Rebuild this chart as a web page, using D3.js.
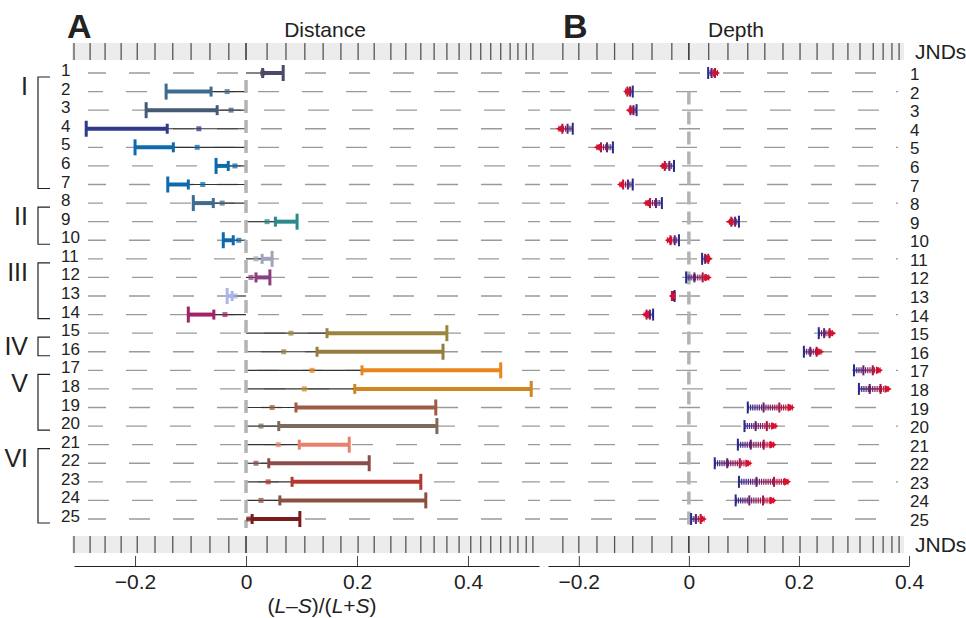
<!DOCTYPE html>
<html>
<head>
<meta charset="utf-8">
<script src="https://cdn.jsdelivr.net/npm/d3@7"></script>
<style>
  body { margin: 0; background: #fff; }
  svg { font-family: "Liberation Sans", Arial, sans-serif; }
</style>
</head>
<body>
<div id="chart"></div>
<script>
// Set up dimensions
const width = 966;
const height = 618;

// Rows (cone class index) and groups
const rows = d3.range(1, 26);
const groups = [
    { name: "I", from: 1, to: 7 },
    { name: "II", from: 8, to: 10 },
    { name: "III", from: 11, to: 14 },
    { name: "IV", from: 15, to: 16 },
    { name: "V", from: 17, to: 20 },
    { name: "VI", from: 21, to: 25 }
];

// Distance panel: small square, near cap, far cap (L-S)/(L+S)
const distMid = [0.030, -0.034, -0.027, -0.085, -0.088, -0.020, -0.078, -0.043, 0.038, -0.013,
    0.018, 0.009, -0.020, -0.038, 0.081, 0.068, 0.119, 0.105, 0.047, 0.027,
    0.058, 0.018, 0.040, 0.027, 0.005];
const distNear = [0.030, -0.063, -0.052, -0.142, -0.131, -0.032, -0.104, -0.059, 0.053, -0.023,
    0.029, 0.018, -0.025, -0.058, 0.146, 0.128, 0.209, 0.196, 0.090, 0.059,
    0.096, 0.041, 0.083, 0.061, 0.011];
const distFar = [0.067, -0.144, -0.180, -0.288, -0.200, -0.054, -0.141, -0.095, 0.092, -0.041,
    0.047, 0.043, -0.034, -0.104, 0.362, 0.355, 0.459, 0.514, 0.342, 0.344,
    0.186, 0.222, 0.315, 0.324, 0.097];
const distColors = ["#4b4a68", "#3f6b8e", "#455a75", "#2f3a8a", "#0e6aad", "#0e6aad", "#0e6aad",
    "#3f6b8e", "#2b8a8c", "#0e6aad", "#a3a3b8", "#8c3f7f", "#a9b6e6", "#a3206b",
    "#9a8540", "#967c3f", "#e8861c", "#d08520", "#a05a45", "#7e6a5a",
    "#e8806c", "#8c4c4c", "#b3392e", "#8a5040", "#7a1c1c"];

// Depth panel: blue end and red end
const depthBlue = [0.035, -0.102, -0.095, -0.211, -0.138, -0.027, -0.102, -0.049, 0.091, -0.018,
    0.024, -0.005, -0.026, -0.065, 0.236, 0.209, 0.300, 0.309, 0.107, 0.101,
    0.089, 0.047, 0.091, 0.085, 0.004];
const depthRed = [0.053, -0.116, -0.111, -0.238, -0.169, -0.051, -0.127, -0.080, 0.071, -0.040,
    0.040, 0.038, -0.033, -0.082, 0.264, 0.242, 0.349, 0.365, 0.189, 0.159,
    0.156, 0.112, 0.182, 0.156, 0.029];

// JND tick marks along each axis
const jndLeft = [-0.310, -0.281, -0.254, -0.225, -0.196, -0.164, -0.132, -0.099, -0.065, -0.031,
    0, 0.038, 0.072, 0.106, 0.139, 0.171, 0.202, 0.231, 0.261, 0.288, 0.315, 0.339,
    0.362, 0.384, 0.405, 0.423, 0.441, 0.459, 0.476, 0.490, 0.505, 0.517];
const jndRight = [-0.229, -0.200, -0.167, -0.135, -0.102, -0.067, -0.031, 0, 0.036, 0.071,
    0.107, 0.138, 0.171, 0.202, 0.233, 0.262, 0.289, 0.311, 0.335, 0.353, 0.369, 0.382];

const axisTicks = [-0.2, 0, 0.2, 0.4];

// Create SVG
const svg = d3.select("#chart")
    .append("svg")
    .attr("width", width)
    .attr("height", height)
    .attr("viewBox", `0 0 ${width} ${height}`);

// Scales
const xL = d3.scaleLinear().domain([-0.31, 0.528]).range([74, 539]);
const xR = d3.scaleLinear().domain([-0.256, 0.4]).range([548, 909]);
const y = d3.scalePoint().domain(rows).range([73, 519]);

const blue = "#2a2a8c";
const red = "#d8102c";

// Panel titles
svg.append("text").attr("x", 67).attr("y", 38).attr("font-size", 34).attr("font-weight", "bold").attr("fill", "#222").text("A");
svg.append("text").attr("x", 325).attr("y", 37).attr("font-size", 21).attr("text-anchor", "middle").attr("fill", "#222").text("Distance");
svg.append("text").attr("x", 563).attr("y", 38).attr("font-size", 34).attr("font-weight", "bold").attr("fill", "#222").text("B");
svg.append("text").attr("x", 736).attr("y", 37).attr("font-size", 21).attr("text-anchor", "middle").attr("fill", "#222").text("Depth");

// JND strips
function jndStrip(yTop) {
    const s = svg.append("g");
    s.append("rect").attr("x", 72).attr("y", yTop).attr("width", 832).attr("height", 17).attr("fill", "#ececec");
    s.selectAll(".jl").data(jndLeft).enter().append("line")
        .attr("x1", d => xL(d)).attr("x2", d => xL(d))
        .attr("y1", yTop).attr("y2", yTop + 17)
        .attr("stroke", d => d === 0 ? "#111" : "#555")
        .attr("stroke-width", 1.3);
    s.selectAll(".jr").data(jndRight).enter().append("line")
        .attr("x1", d => xR(d)).attr("x2", d => xR(d))
        .attr("y1", yTop).attr("y2", yTop + 17)
        .attr("stroke", d => d === 0 ? "#111" : "#555")
        .attr("stroke-width", 1.3);
    s.append("text").attr("x", 915).attr("y", yTop + 16).attr("font-size", 21).attr("fill", "#222").text("JNDs");
}
jndStrip(43);
jndStrip(536);

// Row background dashes
svg.append("g").selectAll("line").data(rows).enter().append("line")
    .attr("x1", 88).attr("x2", 540)
    .attr("y1", d => y(d)).attr("y2", d => y(d))
    .attr("stroke", "#9a9a9a").attr("stroke-width", 1.4)
    .attr("stroke-dasharray", "21 23")
    .attr("stroke-dashoffset", d => (d % 3) * 3);
svg.append("g").selectAll("line").data(rows).enter().append("line")
    .attr("x1", 550).attr("x2", 898)
    .attr("y1", d => y(d)).attr("y2", d => y(d))
    .attr("stroke", "#9a9a9a").attr("stroke-width", 1.4)
    .attr("stroke-dasharray", "21 23")
    .attr("stroke-dashoffset", d => (d % 3) * 3);

// Row labels
svg.append("g").selectAll("text").data(rows).enter().append("text")
    .attr("x", 61).attr("y", d => y(d) + 3)
    .attr("font-size", 17).attr("fill", "#222")
    .text(d => d);
svg.append("g").selectAll("text").data(rows).enter().append("text")
    .attr("x", 910).attr("y", d => y(d) + 7)
    .attr("font-size", 17).attr("fill", "#222")
    .text(d => d);

// Group brackets
const br = svg.append("g");
groups.forEach(gr => {
    const y0 = y(gr.from) + 4, y1 = y(gr.to) + 4;
    br.append("path")
        .attr("d", `M50,${y0}H38V${y1}H50`)
        .attr("fill", "none").attr("stroke", "#222").attr("stroke-width", 1.2);
    br.append("text").attr("x", 28).attr("y", y0 + 18)
        .attr("text-anchor", "end").attr("font-size", 25).attr("fill", "#222")
        .text(gr.name);
});

// Distance panel
const dist = svg.append("g");
dist.selectAll(".thin").data(rows).enter().append("line")
    .attr("x1", xL(0)).attr("x2", (d, i) => xL(distNear[i]))
    .attr("y1", d => y(d)).attr("y2", d => y(d))
    .attr("stroke", "#333").attr("stroke-width", 1.2);

// zero lines
svg.append("line")
    .attr("x1", xL(0)).attr("x2", xL(0)).attr("y1", y(1) + 7).attr("y2", y(25) + 9)
    .attr("stroke", "#b3b3b3").attr("stroke-width", 3.5).attr("stroke-dasharray", "13 7");
svg.append("line")
    .attr("x1", xR(0)).attr("x2", xR(0)).attr("y1", y(2)).attr("y2", y(25) + 11)
    .attr("stroke", "#b3b3b3").attr("stroke-width", 3.5).attr("stroke-dasharray", "13 7");

const distMarks = svg.append("g");
distMarks.selectAll(".sq").data(rows).enter().append("rect")
    .attr("x", (d, i) => xL(distMid[i]) - 2.5).attr("y", d => y(d) - 2.5)
    .attr("width", 5).attr("height", 5)
    .attr("fill", (d, i) => distColors[i]).attr("opacity", 0.75);
distMarks.selectAll(".bar").data(rows).enter().append("line")
    .attr("x1", (d, i) => xL(distNear[i])).attr("x2", (d, i) => xL(distFar[i]))
    .attr("y1", d => y(d)).attr("y2", d => y(d))
    .attr("stroke", (d, i) => distColors[i]).attr("stroke-width", 4);
distMarks.selectAll(".cap1").data(rows).enter().append("rect")
    .attr("x", (d, i) => xL(distNear[i]) - 1.5).attr("y", d => y(d) - 5)
    .attr("width", 3).attr("height", 10)
    .attr("fill", (d, i) => distColors[i]);
distMarks.selectAll(".cap2").data(rows).enter().append("rect")
    .attr("x", (d, i) => xL(distFar[i]) - 1.5).attr("y", d => y(d) - 8)
    .attr("width", 3).attr("height", 16)
    .attr("fill", (d, i) => distColors[i]);

// Depth panel
const defs = svg.append("defs");
rows.forEach((r, i) => {
    const gr = defs.append("linearGradient")
        .attr("id", "dg" + r)
        .attr("gradientUnits", "userSpaceOnUse")
        .attr("x1", xR(depthBlue[i])).attr("x2", xR(depthRed[i]))
        .attr("y1", 0).attr("y2", 0);
    gr.append("stop").attr("offset", 0).attr("stop-color", blue);
    gr.append("stop").attr("offset", 1).attr("stop-color", red);
});

const depth = svg.append("g");
const mix = d3.interpolateRgb(blue, red);
rows.forEach((r, i) => {
    const b = depthBlue[i], rd = depthRed[i];
    const yy = y(r);
    const dir = rd >= b ? 1 : -1;
    depth.append("line")
        .attr("x1", xR(b)).attr("x2", xR(rd)).attr("y1", yy).attr("y2", yy)
        .attr("stroke", `url(#dg${r})`).attr("stroke-width", 2).attr("opacity", 0.6);
    depth.append("line")
        .attr("x1", xR(b)).attr("x2", xR(rd)).attr("y1", yy).attr("y2", yy)
        .attr("stroke", `url(#dg${r})`).attr("stroke-width", 6)
        .attr("stroke-dasharray", "1.2 1");
    [0, 0.35, 0.7].forEach(t => {
        const v = b + (rd - b) * t;
        depth.append("line")
            .attr("x1", xR(v)).attr("x2", xR(v))
            .attr("y1", yy - (t === 0 ? 6 : 5)).attr("y2", yy + (t === 0 ? 6 : 5))
            .attr("stroke", mix(t)).attr("stroke-width", 2);
    });
    const xe = xR(rd);
    depth.append("path")
        .attr("d", `M${xe + dir * 2},${yy}L${xe - dir * 5},${yy - 4}L${xe - dir * 5},${yy + 4}Z`)
        .attr("fill", red);
});

// Bottom axes
const fmt = d => d === 0 ? "0" : d3.format(".1f")(d);
function drawAxis(scale) {
    const a = svg.append("g")
        .attr("transform", "translate(0,566)")
        .call(d3.axisBottom(scale).tickValues(axisTicks).tickFormat(fmt)
            .tickSizeInner(-10).tickSizeOuter(0).tickPadding(8));
    a.select(".domain").attr("stroke", "#222").attr("stroke-width", 1.2);
    a.selectAll(".tick line").attr("stroke", "#444");
    a.selectAll(".tick text").attr("font-size", 21).attr("fill", "#222")
        .attr("font-family", "'Liberation Sans', Arial, sans-serif");
}
drawAxis(xL);
drawAxis(xR);

// Axis title
const title = svg.append("text").attr("x", 322).attr("y", 613)
    .attr("text-anchor", "middle").attr("font-size", 21).attr("fill", "#222");
title.append("tspan").text("(");
title.append("tspan").attr("font-style", "italic").text("L");
title.append("tspan").text("–");
title.append("tspan").attr("font-style", "italic").text("S");
title.append("tspan").text(")/(");
title.append("tspan").attr("font-style", "italic").text("L");
title.append("tspan").text("+");
title.append("tspan").attr("font-style", "italic").text("S");
title.append("tspan").text(")");
</script>
</body>
</html>
